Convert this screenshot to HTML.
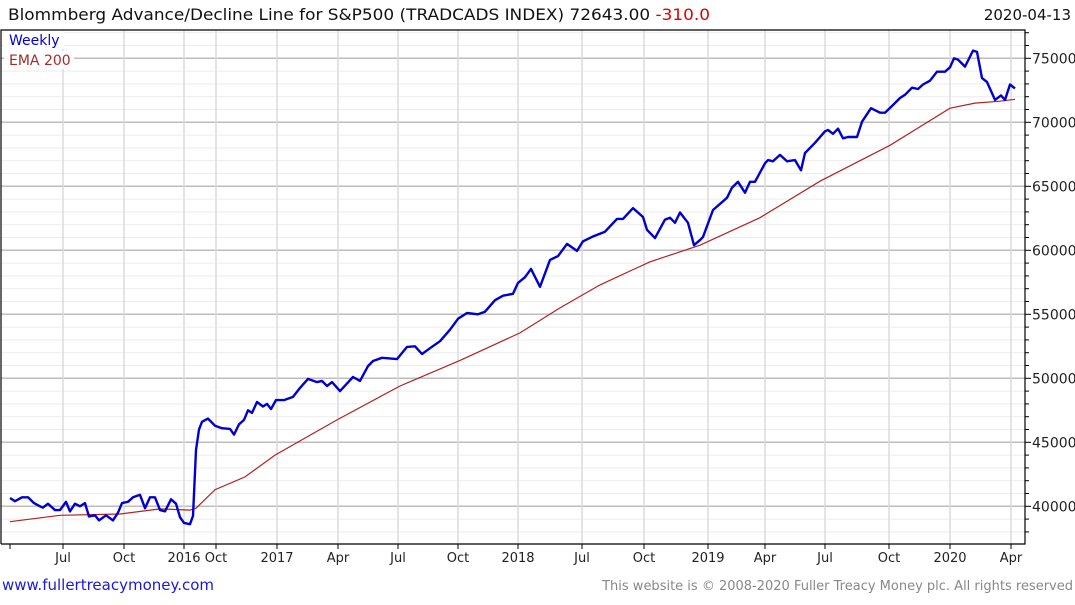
<!DOCTYPE html>
<html><head><meta charset="utf-8"><style>
body{margin:0;background:#fff;width:1075px;height:600px;overflow:hidden;font-family:"Liberation Sans",sans-serif}
svg text{font-family:"DejaVu Sans","Liberation Sans",sans-serif}
</style></head><body>
<svg id="chart" width="1075" height="600" xmlns="http://www.w3.org/2000/svg">
<text x="8" y="20" font-size="16" fill="#111" textLength="702" lengthAdjust="spacingAndGlyphs">Blommberg Advance/Decline Line for S&amp;P500 (TRADCADS INDEX) 72643.00 <tspan fill="#e00000">-310.0</tspan></text>
<text x="1071" y="20" font-size="15" fill="#111" text-anchor="end">2020-04-13</text>
<g id="grid"></g>
<g id="axes"></g>
<g id="series"></g>
<rect x="4" y="31" width="60" height="18" fill="#fff"/>
<rect x="4" y="51" width="70" height="18" fill="#fff"/>
<text x="9" y="45" font-size="14" fill="#0000dd">Weekly</text>
<text x="9" y="65" font-size="14" fill="#a52a2a">EMA 200</text>
<text x="2" y="590" font-size="15" fill="#1a1adc">www.fullertreacymoney.com</text>
<text x="1073" y="590" font-size="13" fill="#888" text-anchor="end">This website is © 2008-2020 Fuller Treacy Money plc. All rights reserved</text>
</svg>
<script>
const weeklyWeeks=[0,1.25,3,4.5,6,7.5,8.25,9.5,11.25,12.5,14,15,16.25,17.5,18.75,19.75,21.25,22.25,24,25.75,27,28,29.5,30.75,32.5,33.75,35,36.25,37.5,38.75,40.25,41.5,42.5,43.5,45,45.75,46.5,47.25,48,49.5,51.25,53,55,56,57.25,58.5,59.5,60.5,61.75,63.25,64.25,65.25,66.5,68.5,70.75,72.5,74.5,76.75,78,79.25,80.5,82.5,85.75,87.5,89.5,90.75,93,96.75,99.25,101.25,103,105,107.5,110,112,114.25,117,118.75,121.25,123.25,125.75,127,128.75,130.25,132.5,135,137,139.25,141.75,143.25,145.5,148.75,151.75,153.25,155.75,158.25,159.25,161.25,163.75,165,166.25,167.5,169.5,171,172.5,173.25,175.75,179.25,180.5,182,183.75,185,186.25,188.75,189.5,190.75,192.5,194.25,196.25,197.75,198.75,201.25,203.75,204.5,205.75,207,208.25,209.5,211.75,213,215.25,217.5,218.75,220.75,222.5,223.75,225.5,227,228.25,230,231.75,233.75,235,236,237,238.75,240.75,241.75,243,244.25,246.25,247.75,248.75,250,251.25];
const weeklyValues=[40.65,40.4,40.7,40.7,40.25,40.0,39.9,40.2,39.7,39.7,40.35,39.6,40.2,40.0,40.25,39.2,39.3,38.9,39.3,38.9,39.5,40.25,40.35,40.7,40.9,39.85,40.7,40.7,39.7,39.6,40.55,40.2,39.15,38.7,38.6,39.25,44.4,46.0,46.6,46.85,46.3,46.1,46.05,45.6,46.4,46.75,47.5,47.3,48.15,47.8,48.0,47.6,48.3,48.3,48.55,49.25,49.95,49.7,49.8,49.4,49.7,49.0,50.1,49.8,50.95,51.35,51.6,51.5,52.45,52.5,51.9,52.35,52.9,53.8,54.65,55.1,55.0,55.2,56.1,56.45,56.6,57.45,57.9,58.55,57.15,59.25,59.55,60.5,59.95,60.7,61.05,61.45,62.45,62.45,63.3,62.6,61.6,60.95,62.4,62.55,62.15,62.95,62.15,60.4,60.8,61.05,63.15,64.1,64.9,65.35,64.5,65.35,65.35,66.8,67.05,66.95,67.45,66.95,67.05,66.25,67.6,68.4,69.3,69.4,69.1,69.5,68.75,68.85,68.85,70.05,71.1,70.75,70.75,71.35,71.9,72.15,72.7,72.6,72.95,73.25,73.95,73.95,74.3,75.0,74.9,74.35,75.6,75.5,73.45,73.15,71.75,72.1,71.75,72.95,72.65];
const emaWeeks=[0,12.5,27.5,37.5,45,46.5,51.25,58.75,66.25,81.75,97.5,112.5,127.5,137.5,147.5,160,172.5,187.5,202.5,220,235,241.25,247.5,251.25];
const emaValues=[38.8,39.3,39.4,39.8,39.7,39.85,41.3,42.3,44.0,46.75,49.4,51.4,53.55,55.5,57.3,59.1,60.4,62.55,65.4,68.2,71.1,71.5,71.65,71.8];
const xTickLabels=["Jul","Oct","2016","Oct","2017","Apr","Jul","Oct","2018","Jul","Oct","2019","Apr","Jul","Oct","2020","Apr"];
const xTickWeeks=[13.25,28.5,43.5,51.5,66.75,82,97,112,127,143,158.5,174.5,188.75,203.75,219.75,235,250.25];
const yTickValues=[40000,45000,50000,55000,60000,65000,70000,75000];

const L=1,R=1025,T=30,B=544;
const xs=w=>10+w*4;
const ys=v=>506.3-(v-40000)*64/5000;
const NS="http://www.w3.org/2000/svg";
function mk(tag,attrs,parent){const e=document.createElementNS(NS,tag);for(const k in attrs)e.setAttribute(k,attrs[k]);parent.appendChild(e);return e;}
const grid=document.getElementById('grid'),axes=document.getElementById('axes'),series=document.getElementById('series');
for(let v=38000;v<=77000;v+=1000){const y=ys(v);if(y<T||y>B)continue;
 const major=v%5000===0;
 const ln=mk('line',{x1:L,x2:R,y1:y,y2:y,stroke:major?'#bdbdbd':'#ececec','stroke-width':major?1.5:1},grid);
 
 
 const tk=mk('line',{x1:R,x2:R+(major?6:4),y1:y,y2:y,stroke:'#000'},axes);
 
 
}
yTickValues.forEach(v=>{const t=mk('text',{x:R+7,y:ys(v)+5,'font-size':14,fill:'#222'},axes);t.textContent=v;
 
 });
xTickWeeks.forEach((w,i)=>{const x=xs(w);
 const g=mk('line',{x1:x,x2:x,y1:T,y2:B,stroke:'#dcdcdc','stroke-width':1.5},grid);
 
 
 const tk=mk('line',{x1:x,x2:x,y1:B,y2:B+5,stroke:'#000'},axes);
 
 
 const t=mk('text',{x:x,y:B+18,'font-size':13,fill:'#222','text-anchor':'middle'},axes);t.textContent=xTickLabels[i];
 
 });
const t0=mk('line',{x1:xs(0),x2:xs(0),y1:B,y2:B+5,stroke:'#000'},axes);


const frame=mk('path',{d:`M${L} ${B}V${T}H${R}V${B}H${L}`,fill:'none',stroke:'#000','stroke-width':1.2},axes);


function pathFor(ws,vs){let d='';const n=Math.min(ws.length,vs.length);for(let i=0;i<n;i++)d+=(i?'L':'M')+xs(ws[i]).toFixed(1)+' '+ys(vs[i]*1000).toFixed(1);return d;}
const ema=mk('path',{d:pathFor(emaWeeks,emaValues),fill:'none',stroke:'#b22222','stroke-width':1.2},series);


const wk=mk('path',{d:pathFor(weeklyWeeks,weeklyValues),fill:'none',stroke:'#0000d0','stroke-width':2.4,'stroke-linejoin':'round'},series);


</script>
</body></html>
